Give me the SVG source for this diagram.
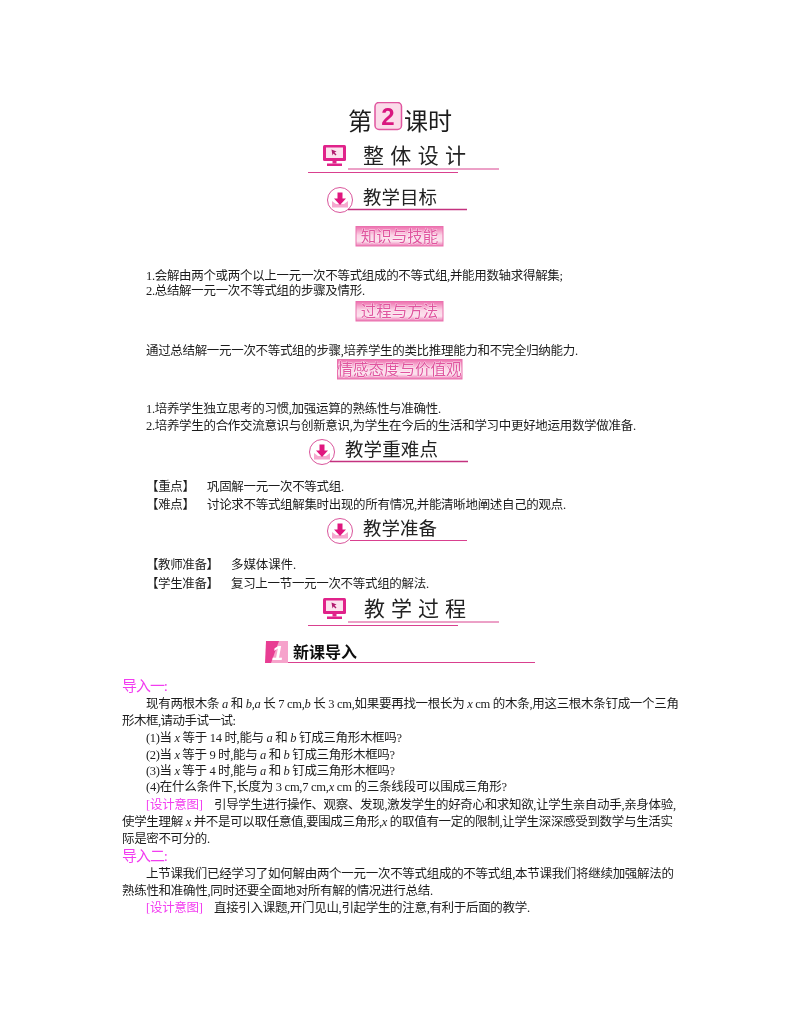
<svg xmlns="http://www.w3.org/2000/svg" width="800" height="1028" viewBox="0 0 800 1028">
<style>
text{font-family:"Liberation Serif","Noto Sans CJK SC",sans-serif;fill:#1c1c1c}
.b{font-size:12.5px}
.m{fill:#f23cf0}
.h{font-family:"Noto Sans CJK SC",sans-serif;font-size:18.5px;fill:#222}
.w{font-family:"Noto Sans CJK SC",sans-serif;font-size:21px;fill:#222}
.t{font-family:"Noto Sans CJK SC",sans-serif;font-size:15.5px;fill:#e0559f;stroke:#fff;stroke-width:.5px;paint-order:stroke}
.r{fill:none;stroke:#d9408f;stroke-width:1}
.d{fill:none;stroke:#c4307f;stroke-width:1.5}
.i{font-style:italic}
</style>
<defs>
<filter id="soft" x="0" y="0" width="100%" height="100%"><feGaussianBlur stdDeviation="0.35"/></filter>
<linearGradient id="bg" x1="0" y1="0" x2="0" y2="1"><stop offset="0" stop-color="#ee6fae"/><stop offset=".45" stop-color="#fbd5e6"/><stop offset=".75" stop-color="#fce3ee"/><stop offset="1" stop-color="#ec78b3"/></linearGradient>
<g id="mon"><rect x="0" y="0" width="23" height="16" rx="1.5" fill="#e0218a"/><rect x="3" y="2.5" width="17" height="10.5" fill="#fbe3ee"/><path d="M8.5 4.5l5 2-2 1 2 2-1 1-2-2-1 2z" fill="#b01a6e"/><rect x="9.500" y="16" width="4" height="2.500" fill="#e0218a"/><rect x="4" y="18.500" width="15" height="2.500" fill="#e0218a"/></g>
<g id="arr"><circle r="12.500" fill="#fff" stroke="#d9559b" stroke-width="1"/><path d="M-8 1l4 3h8l4-3v6.500h-16z" fill="#f6a8cf"/><path d="M-2.500-7.500h5v6h3.500l-6 6.500-6-6.500h3.500z" fill="#e0187f"/></g>
</defs>
<rect width="800" height="1028" fill="#fff"/>
<g filter="url(#soft)">
<g id="title">
<text x="348" y="130" style="font-family:'Noto Sans CJK SC',sans-serif;font-size:24px">第</text>
<rect x="375" y="102.500" width="26.500" height="27" rx="4" fill="#fbdbe9" stroke="#e0559f" stroke-width="1.500"/>
<text x="388" y="125" text-anchor="middle" style="font-family:'Liberation Sans',sans-serif;font-weight:bold;font-size:24px;fill:#d9187f">2</text>
<text x="404" y="130" style="font-family:'Noto Sans CJK SC',sans-serif;font-size:24px">课时</text>
</g>
<g id="sec-design">
<use href="#mon" x="323" y="145"/>
<text class="w" x="363" y="163" textLength="103">整体设计</text>
<path class="r" d="M348 169H499M308 172.500H458"/>
</g>
<g id="sec-goal">
<use href="#arr" x="340" y="200"/>
<text class="h" x="363" y="204" textLength="74">教学目标</text>
<path class="d" d="M348 209.500H467"/>
</g>
<g id="tag-1"><rect x="356" y="226.500" width="87" height="19.500" fill="url(#bg)" stroke="#ea70ae"/><text class="t" x="399.500" y="241.500" text-anchor="middle">知识与技能</text></g>
<g id="goal-text">
<text class="b" x="146" y="280" textLength="417">1.会解由两个或两个以上一元一次不等式组成的不等式组,并能用数轴求得解集;</text>
<text class="b" x="146" y="295" textLength="219">2.总结解一元一次不等式组的步骤及情形.</text>
</g>
<g id="tag-2"><rect x="356" y="301.500" width="87" height="19.500" fill="url(#bg)" stroke="#ea70ae"/><text class="t" x="399.500" y="316.500" text-anchor="middle">过程与方法</text></g>
<text class="b" x="146" y="355" textLength="432">通过总结解一元一次不等式组的步骤,培养学生的类比推理能力和不完全归纳能力.</text>
<g id="tag-3"><rect x="337.500" y="359.500" width="124.500" height="19.500" fill="url(#bg)" stroke="#ea70ae"/><text class="t" x="399.500" y="374.500" text-anchor="middle">情感态度与价值观</text></g>
<g id="emotion-text">
<text class="b" x="146" y="413" textLength="295">1.培养学生独立思考的习惯,加强运算的熟练性与准确性.</text>
<text class="b" x="146" y="430" textLength="490">2.培养学生的合作交流意识与创新意识,为学生在今后的生活和学习中更好地运用数学做准备.</text>
</g>
<g id="sec-key">
<use href="#arr" x="322" y="452"/>
<text class="h" x="345" y="456" textLength="93">教学重难点</text>
<path class="d" d="M330 461.500H468"/>
</g>
<g id="key-text">
<text class="b" x="146" y="491" textLength="49">【重点】</text><text class="b" x="207" y="491" textLength="137">巩固解一元一次不等式组.</text>
<text class="b" x="146" y="509" textLength="49">【难点】</text><text class="b" x="207" y="509" textLength="359">讨论求不等式组解集时出现的所有情况,并能清晰地阐述自己的观点.</text>
</g>
<g id="sec-prep">
<use href="#arr" x="340" y="531"/>
<text class="h" x="363" y="535" textLength="74">教学准备</text>
<path class="r" d="M350 540.500H467"/>
</g>
<g id="prep-text">
<text class="b" x="146" y="569" textLength="73">【教师准备】</text><text class="b" x="231" y="569" textLength="65">多媒体课件.</text>
<text class="b" x="146" y="588" textLength="73">【学生准备】</text><text class="b" x="231" y="588" textLength="198">复习上一节一元一次不等式组的解法.</text>
</g>
<g id="sec-process">
<use href="#mon" x="323" y="598"/>
<text class="w" x="364" y="616" textLength="102">教学过程</text>
<path class="r" d="M348 622H499M308 625.500H458"/>
</g>
<g id="sec-intro">
<path d="M266 641H288V663H265z" fill="#e83d93"/>
<path d="M279 641H288V663H271z" fill="#f6a3cb"/>
<text x="272" y="660" style="font-family:'Liberation Sans',sans-serif;font-weight:bold;font-style:italic;font-size:20px;fill:#fff">1</text>
<text x="293" y="658" style="font-family:'Noto Sans CJK SC',sans-serif;font-weight:bold;font-size:16px;fill:#111">新课导入</text>
<path class="r" d="M288 662.500H535"/>
</g>
<g id="body">
<text x="122" y="691" style="font-size:15px;fill:#f23cf0" textLength="46">导入一:</text>
<text class="b" x="146" y="708" textLength="533">现有两根木条 <tspan class="i">a</tspan> 和 <tspan class="i">b</tspan>,<tspan class="i">a</tspan> 长 7 cm,<tspan class="i">b</tspan> 长 3 cm,如果要再找一根长为 <tspan class="i">x</tspan> cm 的木条,用这三根木条钉成一个三角</text>
<text class="b" x="122" y="725" textLength="114">形木框,请动手试一试:</text>
<text class="b" x="146" y="742" textLength="256">(1)当 <tspan class="i">x</tspan> 等于 14 时,能与 <tspan class="i">a</tspan> 和 <tspan class="i">b</tspan> 钉成三角形木框吗?</text>
<text class="b" x="146" y="759" textLength="249">(2)当 <tspan class="i">x</tspan> 等于 9 时,能与 <tspan class="i">a</tspan> 和 <tspan class="i">b</tspan> 钉成三角形木框吗?</text>
<text class="b" x="146" y="775" textLength="249">(3)当 <tspan class="i">x</tspan> 等于 4 时,能与 <tspan class="i">a</tspan> 和 <tspan class="i">b</tspan> 钉成三角形木框吗?</text>
<text class="b" x="146" y="791" textLength="361">(4)在什么条件下,长度为 3 cm,7 cm,<tspan class="i">x</tspan> cm 的三条线段可以围成三角形?</text>
<text class="b m" x="146" y="809" textLength="57">[设计意图]</text>
<text class="b" x="214" y="809" textLength="462">引导学生进行操作、观察、发现,激发学生的好奇心和求知欲,让学生亲自动手,亲身体验,</text>
<text class="b" x="122" y="826" textLength="551">使学生理解 <tspan class="i">x</tspan> 并不是可以取任意值,要围成三角形,<tspan class="i">x</tspan> 的取值有一定的限制,让学生深深感受到数学与生活实</text>
<text class="b" x="122" y="843" textLength="88">际是密不可分的.</text>
<text x="122" y="861" style="font-size:15px;fill:#f23cf0" textLength="46">导入二:</text>
<text class="b" x="146" y="878" textLength="528">上节课我们已经学习了如何解由两个一元一次不等式组成的不等式组,本节课我们将继续加强解法的</text>
<text class="b" x="122" y="895" textLength="311">熟练性和准确性,同时还要全面地对所有解的情况进行总结.</text>
<text class="b m" x="146" y="912" textLength="57">[设计意图]</text>
<text class="b" x="214" y="912" textLength="316">直接引入课题,开门见山,引起学生的注意,有利于后面的教学.</text>
</g>
</g>
</svg>
